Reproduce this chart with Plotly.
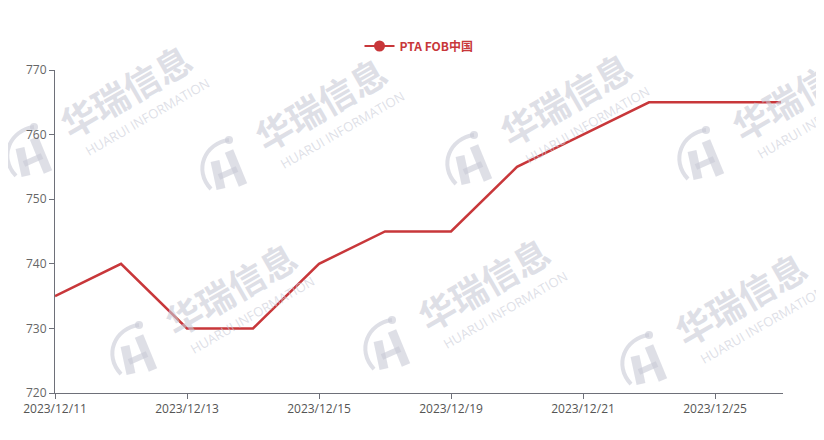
import plotly.graph_objects as go

dates = ["2023/12/11", "2023/12/12", "2023/12/13", "2023/12/14", "2023/12/15", "2023/12/18",
         "2023/12/19", "2023/12/20", "2023/12/21", "2023/12/22", "2023/12/25", "2023/12/26"]
values = [735, 740, 730, 730, 740, 745, 745, 755, 760, 765, 765, 765]
series_name = "PTA FOB中国"
y_ticks = [720, 730, 740, 750, 760, 770]

color = "#c8373a"
xs = list(range(len(dates)))

# page is offset 8px by the body margin
OFF = 8
W, H = 824 - OFF, 440 - OFF
L, R, T, B = 55, 783, 70, 393  # plot area in page pixels


def px(x):
    return (x - L) / (R - L)


def py(y):
    return (B - y) / (B - T)


fig = go.Figure()
fig.add_trace(go.Scatter(
    x=xs, y=values, mode="lines", name=series_name,
    line=dict(color=color, width=2.5),
    showlegend=False,
))
fig.add_trace(go.Scatter(
    x=[None], y=[None], mode="lines+markers", name=series_name,
    line=dict(color=color, width=2), marker=dict(size=11, color=color),
))

wm_color = "rgba(200,202,214,0.6)"
logos = [(30, 152), (225, 165), (470, 160), (702, 155), (135, 350), (388, 345), (645, 360)]
shapes = []
for (lx, ly) in logos:
    cx, cy = lx + 95, ly - 62
    fig.add_annotation(x=px(cx), y=py(cy), xref="paper", yref="paper",
                       text="<b>华瑞信息</b>", showarrow=False, textangle=-30,
                       font=dict(size=36, color=wm_color, family="Noto Sans CJK SC"),
                       xanchor="center", yanchor="middle")
    fig.add_annotation(x=px(cx + 22), y=py(cy + 27), xref="paper", yref="paper",
                       text="HUARUI INFORMATION", showarrow=False, textangle=-30,
                       font=dict(size=13, color=wm_color, family="Open Sans"),
                       xanchor="center", yanchor="middle")

    def P(dx, dy):
        return f"{px(lx + dx):.5f},{py(ly + dy):.5f}"

    shapes.append(dict(type="path", xref="paper", yref="paper",
                       path=f"M{P(4,-25)} C{P(-20,-22)} {P(-32,5)} {P(-14,24)}",
                       line=dict(color=wm_color, width=4), layer="below"))
    shapes.append(dict(type="path", xref="paper", yref="paper",
                       path=f"M{P(-10,-4)} L{P(-4,24)}",
                       line=dict(color=wm_color, width=9), layer="below"))
    shapes.append(dict(type="path", xref="paper", yref="paper",
                       path=f"M{P(4,-14)} L{P(18,20)}",
                       line=dict(color=wm_color, width=9), layer="below"))
    shapes.append(dict(type="path", xref="paper", yref="paper",
                       path=f"M{P(-6,12)} L{P(12,4)}",
                       line=dict(color=wm_color, width=6), layer="below"))
    shapes.append(dict(type="circle", xref="paper", yref="paper",
                       x0=px(lx), y0=py(ly - 21), x1=px(lx + 8), y1=py(ly - 29),
                       fillcolor=wm_color, line=dict(width=0), layer="below"))

fig.update_layout(
    width=W, height=H,
    margin=dict(l=L - OFF, r=W - (R - OFF), t=T - OFF, b=H - (B - OFF)),
    plot_bgcolor="white", paper_bgcolor="white",
    font=dict(family="Open Sans, Noto Sans CJK SC", size=12, color="#666"),
    legend=dict(orientation="h", x=0.5, xanchor="center", y=1 - (46 - OFF) / H, yanchor="middle",
                yref="container", font=dict(size=12, color=color, family="Noto Sans CJK SC", weight="bold"),
                itemwidth=30),
    showlegend=True,
    shapes=shapes,
)
fig.update_xaxes(
    range=[0, 11.03], tickmode="array", tickvals=xs[::2], ticktext=dates[::2],
    showgrid=False, showline=True, linecolor="#6e7079", linewidth=1,
    ticks="outside", ticklen=5, tickcolor="#6e7079", zeroline=False, automargin=False,
    tickfont=dict(size=12, color="#555"),
)
fig.update_yaxes(
    range=[720, 770], tickvals=y_ticks, showgrid=False, showline=True,
    linecolor="#6e7079", linewidth=1, ticks="outside", ticklen=5, tickcolor="#6e7079",
    zeroline=False, automargin=False, tickfont=dict(size=12, color="#666"),
)
fig.write_html("out.html")
